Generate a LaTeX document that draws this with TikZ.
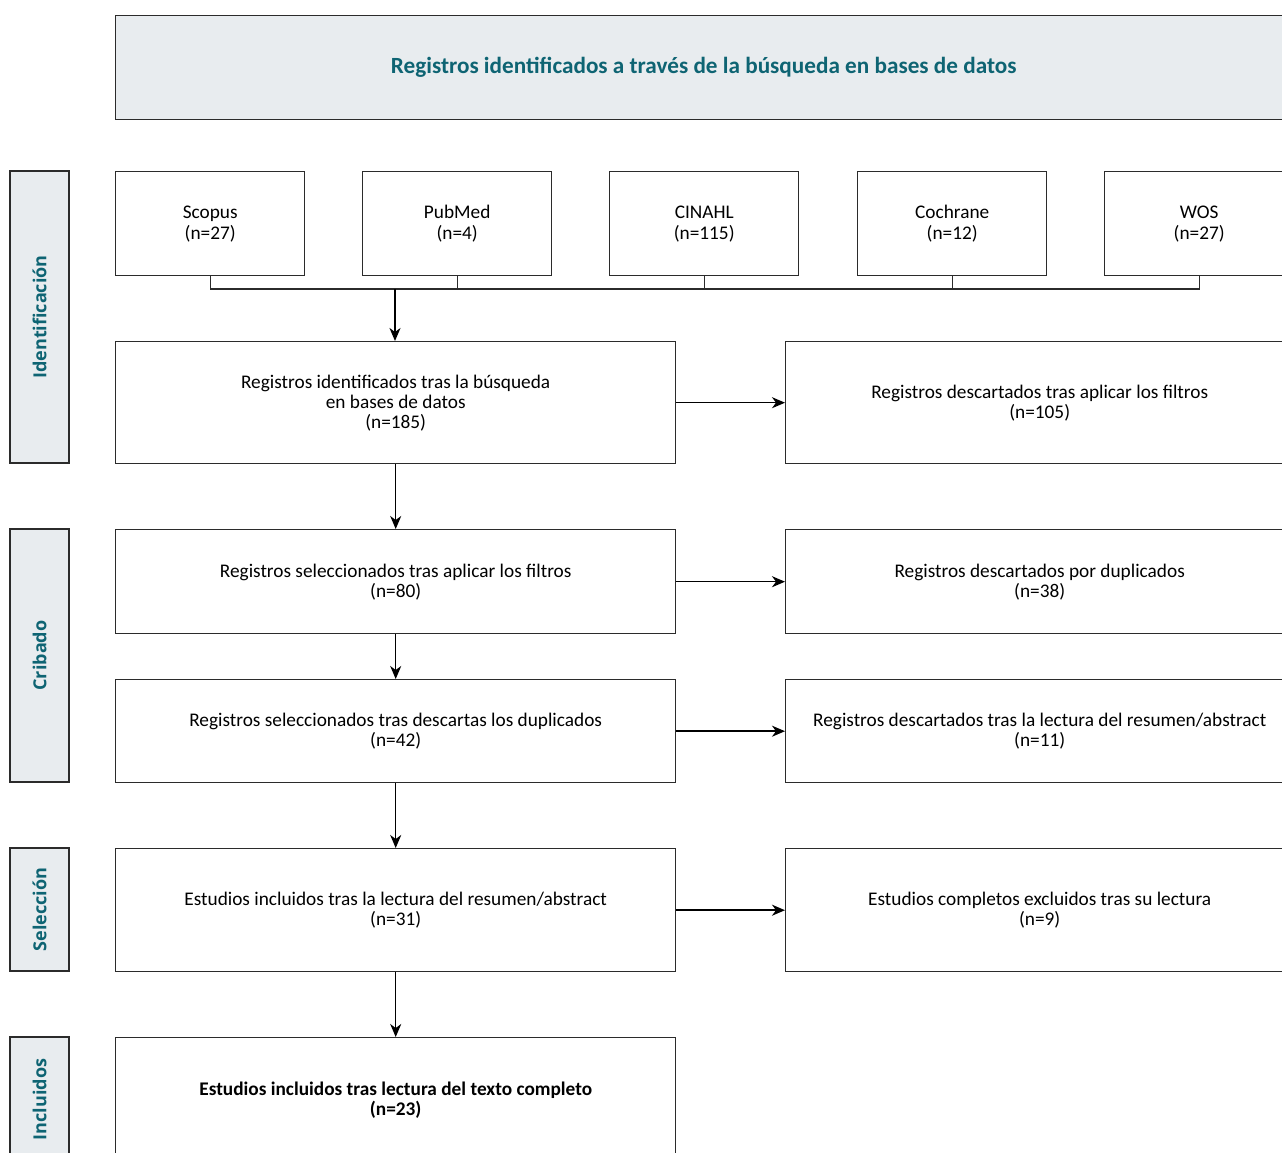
\documentclass[tikz,border=0pt]{standalone}
\usepackage{fontspec}
\setmainfont{Carlito}
\newfontfamily\sidefont{Open Sans}
\usetikzlibrary{arrows.meta}
\definecolor{tealc}{HTML}{0E6473}
\definecolor{fillg}{HTML}{E8ECEF}
\definecolor{edgec}{HTML}{2B2B2B}
\begin{document}
\begin{tikzpicture}[x=1pt,y=-1pt,
  box/.style={draw=edgec, line width=1.4pt, align=center, inner sep=0pt, fill=white,
    font=\fontsize{19.3}{20}\selectfont, anchor=north west},
  titlebox/.style={box, fill=fillg, text=tealc, font=\fontsize{23.2}{26}\selectfont\bfseries},
  sidebox/.style={draw=edgec, line width=1.4pt, fill=fillg, inner sep=0pt, rotate=90,
    text=tealc, font=\sidefont\bfseries\fontsize{18}{20}\selectfont, minimum height=59pt},
  arr/.style={-{Stealth[length=13pt,width=11pt,inset=4pt]}, line width=1.5pt, black},
  conn/.style={line width=1.2pt, edgec}]
\clip (0,0) rectangle (1282,1153);
\fill[white] (0,0) rectangle (1282,1153);
% title
\node[titlebox, minimum width=1176pt, minimum height=104pt] (title) at (115,15)
  {Registros identificados a través de la búsqueda en bases de datos};
% side labels
\node[sidebox, minimum width=292pt] (s1) at (39.5,317) {Identificación};
\node[sidebox, minimum width=253pt] (s2) at (39.5,655.5) {Cribado};
\node[sidebox, minimum width=123pt] (s3) at (39.5,909.5) {Selección};
\node[sidebox, minimum width=125pt] (s4) at (39.5,1099.5) {Incluidos};
% sources
\node[box, minimum width=189pt, minimum height=104pt] (scopus) at (115,171) {\strut Scopus\\(n=27)};
\node[box, minimum width=189pt, minimum height=104pt] (pubmed) at (362,171) {\strut PubMed\\(n=4)};
\node[box, minimum width=189pt, minimum height=104pt] (cinahl) at (609,171) {\strut CINAHL\\(n=115)};
\node[box, minimum width=189pt, minimum height=104pt] (cochrane) at (857,171) {\strut Cochrane\\(n=12)};
\node[box, minimum width=189pt, minimum height=104pt] (wos) at (1104,171) {\strut WOS\\(n=27)};
% left column
\node[box, minimum width=560pt, minimum height=122pt] (b1) at (115,341)
  {Registros identificados tras la búsqueda\\en bases de datos\\(n=185)};
\node[box, minimum width=560pt, minimum height=104pt] (b2) at (115,529)
  {Registros seleccionados tras aplicar los filtros\\(n=80)};
\node[box, minimum width=560pt, minimum height=103pt] (b3) at (115,679)
  {Registros seleccionados tras descartas los duplicados\\(n=42)};
\node[box, minimum width=560pt, minimum height=123pt] (b4) at (115,848)
  {Estudios incluidos tras la lectura del resumen/abstract\\(n=31)};
\node[box, minimum width=560pt, minimum height=125pt, font=\fontsize{19.3}{20}\selectfont\bfseries] (b5) at (115,1037)
  {Estudios incluidos tras lectura del texto completo\\(n=23)};
% right column
\node[box, minimum width=508pt, minimum height=122pt] (r1) at (785,341)
  {Registros descartados tras aplicar los filtros\\(n=105)};
\node[box, minimum width=508pt, minimum height=104pt] (r2) at (785,529)
  {Registros descartados por duplicados\\(n=38)};
\node[box, minimum width=508pt, minimum height=103pt] (r3) at (785,679)
  {Registros descartados tras la lectura del resumen/abstract\\(n=11)};
\node[box, minimum width=508pt, minimum height=123pt] (r4) at (785,848)
  {Estudios completos excluidos tras su lectura\\(n=9)};
% merge connector
\coordinate (jn) at (395,289);
\draw[conn] (scopus.south) |- (wos.south |- jn) -- (wos.south);
\draw[conn] (pubmed.south) -- (pubmed.south |- jn);
\draw[conn] (cinahl.south) -- (cinahl.south |- jn);
\draw[conn] (cochrane.south) -- (cochrane.south |- jn);
\draw[arr] (jn) -- (jn |- b1.north);
% vertical arrows
\draw[arr] (b1.south) -- (b2.north);
\draw[arr] (b2.south) -- (b3.north);
\draw[arr] (b3.south) -- (b4.north);
\draw[arr] (b4.south) -- (b5.north);
% horizontal arrows
\draw[arr] (b1.east) -- (r1.west);
\draw[arr] (b2.east) -- (r2.west);
\draw[arr] (b3.east) -- (r3.west);
\draw[arr] (b4.east) -- (r4.west);
\end{tikzpicture}
\end{document}
